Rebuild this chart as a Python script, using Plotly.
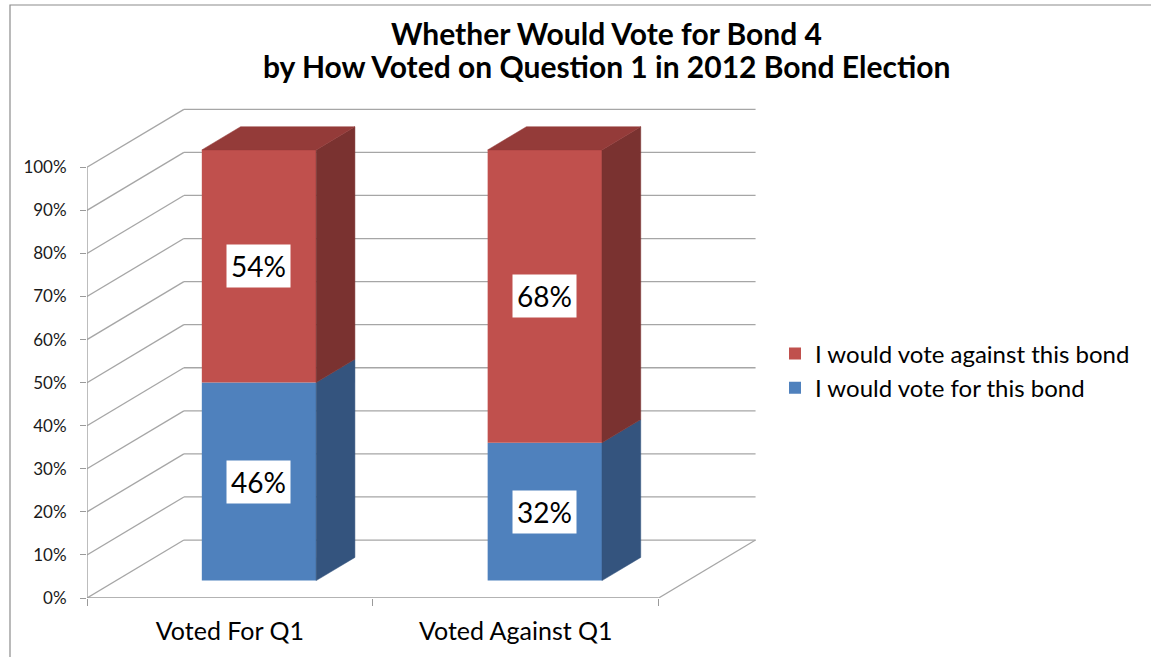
import plotly.graph_objects as go

# ---------------- data ----------------
categories = ["Voted For Q1", "Voted Against Q1"]
series_names = ["I would vote for this bond", "I would vote against this bond"]
vote_for = [46, 32]
vote_against = [54, 68]
y_ticks = [0, 10, 20, 30, 40, 50, 60, 70, 80, 90, 100]
y_tick_labels = [f"{v}%" for v in y_ticks]
title_lines = ["Whether Would Vote for Bond 4", "by How Voted on Question 1 in 2012 Bond Election"]

# ---------------- style / projection ----------------
FONT = "Lato"
DX = 0.339    # horizontal shift of full depth (category units)
DY = 13.46    # vertical shift of full depth (value units)
D0, D1 = 0.30, 0.70   # depth span of bars
BAR_W = 0.40
GRID = "#A6A6A6"
FRONT = ["#4F81BD", "#C0504D"]
SIDE = ["#34547E", "#7A3230"]
TOP = ["#3F6798", "#943B39"]

X_MAX = 2.4
Y_MAX = 114
ML, MR, MT, MB = 87, 378, 107, 59
W, H = 1151, 657
pw, ph = W - ML - MR, H - MT - MB

n = len(categories)
centers = [i + 0.5 for i in range(n)]
series = [vote_for, vote_against]
legend_ranks = [2, 1]

fig = go.Figure()

# front faces of stacked bars (true bar traces)
bottoms = [0] * n
seg_bounds = []
for s, vals in enumerate(series):
    base = [bottoms[i] + D0 * DY for i in range(n)]
    fig.add_trace(go.Bar(
        x=[c + D0 * DX for c in centers], y=vals, base=base, width=BAR_W,
        name=series_names[s], marker=dict(color=FRONT[s], line=dict(width=0)),
        legendrank=legend_ranks[s], hoverinfo="skip"))
    seg_bounds.append([(bottoms[i], bottoms[i] + vals[i]) for i in range(n)])
    bottoms = [bottoms[i] + vals[i] for i in range(n)]

# side and top faces (polygons computed from the data)
for s in range(len(series)):
    for i in range(n):
        lo, hi = seg_bounds[s][i]
        xr = centers[i] + BAR_W / 2
        xl = centers[i] - BAR_W / 2
        xs = [xr + D0 * DX, xr + D1 * DX, xr + D1 * DX, xr + D0 * DX, xr + D0 * DX]
        ys = [lo + D0 * DY, lo + D1 * DY, hi + D1 * DY, hi + D0 * DY, lo + D0 * DY]
        fig.add_trace(go.Scatter(x=xs, y=ys, mode="lines", fill="toself",
                                 fillcolor=SIDE[s], line=dict(width=0.5, color=SIDE[s]),
                                 showlegend=False, hoverinfo="skip"))
        if s == len(series) - 1:
            xt = [xl + D0 * DX, xr + D0 * DX, xr + D1 * DX, xl + D1 * DX, xl + D0 * DX]
            yt = [hi + D0 * DY, hi + D0 * DY, hi + D1 * DY, hi + D1 * DY, hi + D0 * DY]
            fig.add_trace(go.Scatter(x=xt, y=yt, mode="lines", fill="toself",
                                     fillcolor=TOP[s], line=dict(width=0.5, color=TOP[s]),
                                     showlegend=False, hoverinfo="skip"))

# walls / floor (shapes below traces)
shapes = []
def seg(x0, y0, x1, y1, color=GRID, w=1.3):
    shapes.append(dict(type="line", xref="x", yref="y", x0=x0, y0=y0, x1=x1, y1=y1,
                       line=dict(color=color, width=w), layer="below"))

for v in y_ticks:
    seg(0, v, DX, v + DY)                 # left wall
    seg(DX, v + DY, n + DX, v + DY)       # back wall
seg(0, 0, 0, y_ticks[-1], "#9A9A9A")      # vertical axis
seg(0, 0, n, 0, "#9A9A9A")                # front floor edge
seg(n, 0, n + DX, DY)                     # right floor edge

# chart border
shapes.append(dict(type="rect", xref="paper", yref="paper",
                   x0=(10 - ML) / pw, x1=(W + 20 - ML) / pw,
                   y0=(H - MB - (H + 20)) / ph, y1=(H - MB - 5) / ph,
                   line=dict(color="#8C8C8C", width=1.2), layer="below"))

# data labels
annotations = []
for s, vals in enumerate(series):
    for i in range(n):
        lo, hi = seg_bounds[s][i]
        annotations.append(dict(
            x=centers[i] + D0 * DX, y=(lo + hi) / 2 + D0 * DY, xref="x", yref="y",
            text=f"{vals[i]}%", showarrow=False, bgcolor="white", borderpad=4,
            font=dict(family=FONT, size=28, color="black")))

# title (two lines)
for k, line in enumerate(title_lines):
    annotations.append(dict(
        x=(606 - ML) / pw, xref="paper", xanchor="center",
        y=(H - MB - (33 + 33 * k)) / ph, yref="paper", yanchor="middle",
        text=f"<b>{line}</b>", showarrow=False,
        font=dict(family=FONT, size=30, color="black")))

fig.update_layout(
    width=W, height=H,
    margin=dict(l=ML, r=MR, t=MT, b=MB),
    paper_bgcolor="white", plot_bgcolor="rgba(0,0,0,0)",
    barmode="overlay",
    font=dict(family=FONT, color="black"),
    xaxis=dict(range=[0, X_MAX], tickmode="array", tickvals=centers, ticktext=categories,
               ticks="", showgrid=False, zeroline=False, showline=False,
               tickfont=dict(size=25, color="black"), ticklabelstandoff=16,
               minor=dict(tickmode="array", tickvals=list(range(n + 1)), ticks="outside",
                          ticklen=7, tickcolor="#9A9A9A", tickwidth=1.3, showgrid=False)),
    yaxis=dict(range=[0, Y_MAX], tickmode="array", tickvals=y_ticks, ticktext=y_tick_labels,
               ticks="outside", ticklen=6, tickcolor="#9A9A9A", tickwidth=1.3,
               showgrid=False, zeroline=False, showline=False,
               tickfont=dict(size=17, color="#1a1a1a"), ticklabelstandoff=10),
    legend=dict(x=(775 - ML) / pw, xanchor="left", y=(H - MB - 371) / ph, yanchor="middle",
                traceorder="normal", tracegroupgap=0,
                font=dict(family=FONT, size=24, color="black"), bgcolor="rgba(0,0,0,0)"),
    shapes=shapes, annotations=annotations,
    showlegend=True,
)

fig.write_html("out.html")
